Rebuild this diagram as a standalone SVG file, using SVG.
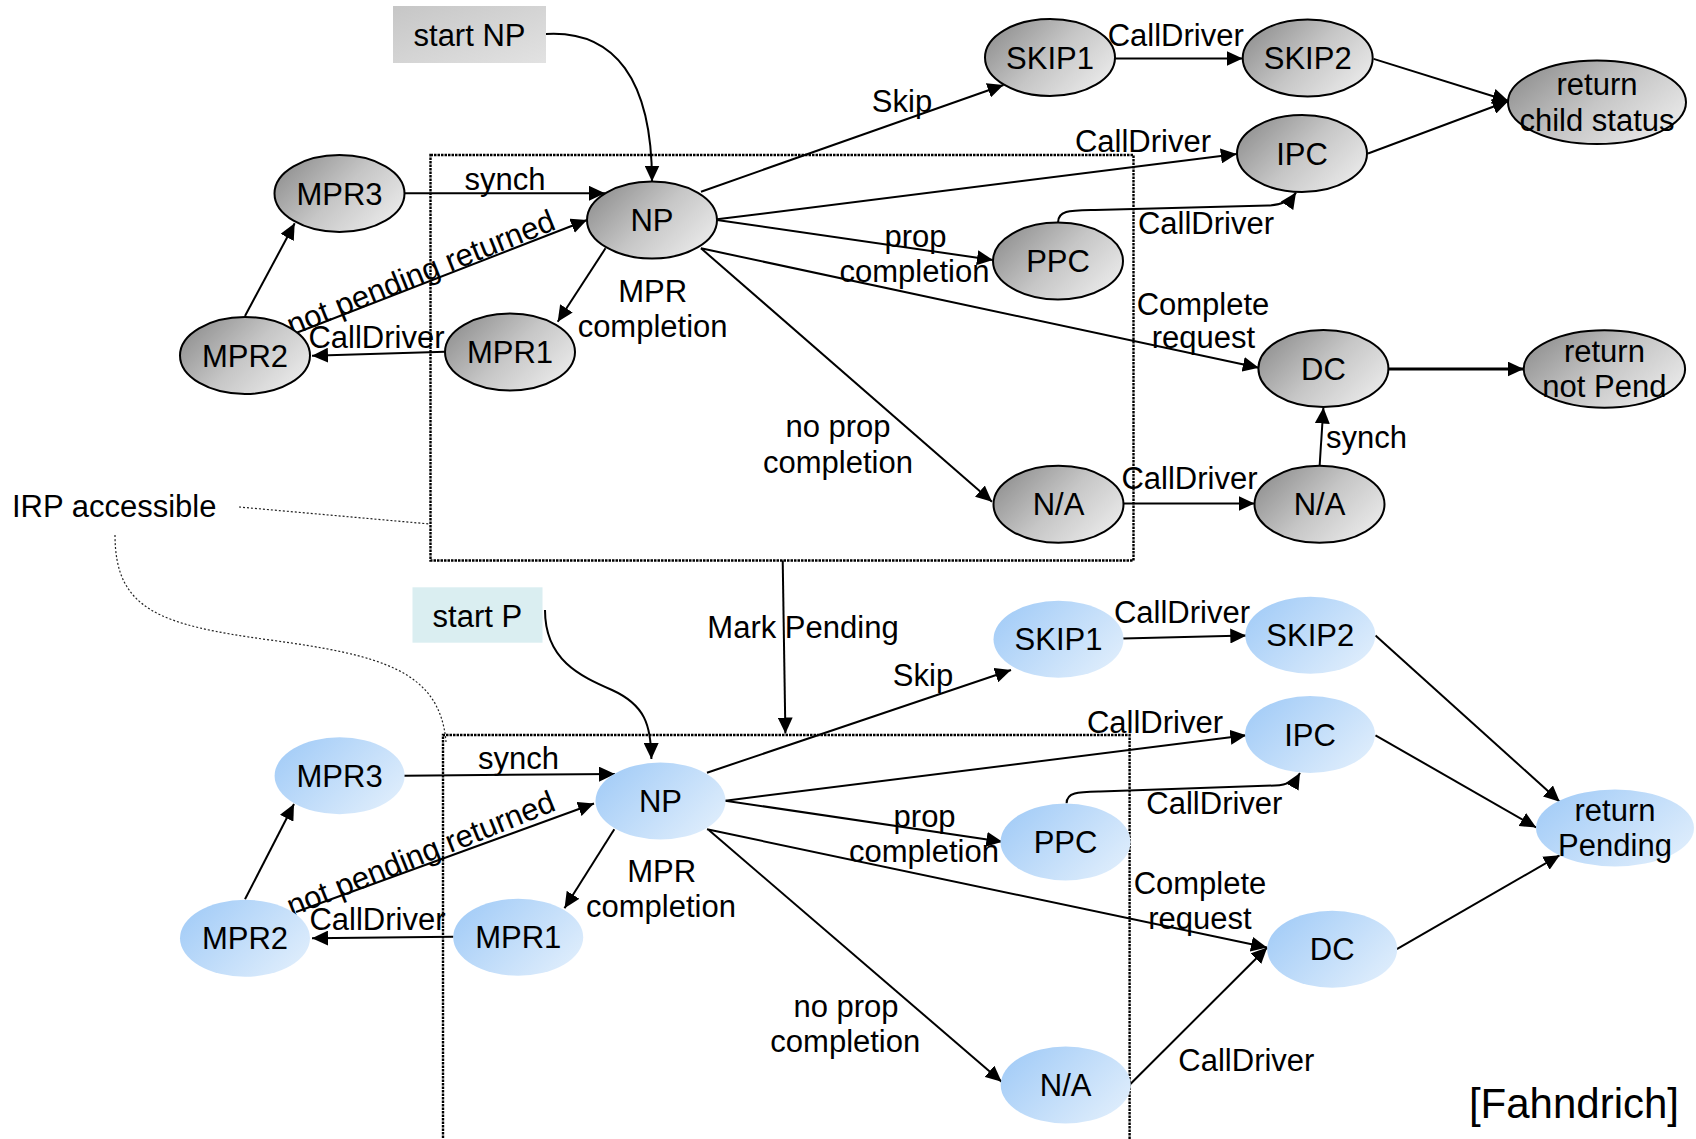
<svg xmlns="http://www.w3.org/2000/svg" width="1696" height="1139" viewBox="0 0 1696 1139">
<defs>
<linearGradient id="gray" x1="0" y1="0.2" x2="1" y2="0.8">
<stop offset="0" stop-color="#8f8f8f"/><stop offset="0.5" stop-color="#c6c6c6"/><stop offset="1" stop-color="#ececec"/>
</linearGradient>
<linearGradient id="blue" x1="0" y1="0.2" x2="1" y2="0.8">
<stop offset="0" stop-color="#a3ccf7"/><stop offset="1" stop-color="#e0eefc"/>
</linearGradient>
<linearGradient id="boxg" x1="0" y1="0" x2="1" y2="1">
<stop offset="0" stop-color="#c6c6c6"/><stop offset="1" stop-color="#e2e2e2"/>
</linearGradient>
<marker id="ah" viewBox="0 0 16 15" refX="16" refY="7.5" markerWidth="16" markerHeight="15" markerUnits="userSpaceOnUse" orient="auto">
<path d="M0,0 L16,7.5 L0,15 z" fill="#000"/>
</marker>
<style>
text{font-family:"Liberation Sans",Arial,Helvetica,sans-serif;font-size:31px;fill:#000}
.m{text-anchor:middle}
.gn{fill:url(#gray);stroke:#000;stroke-width:2}
.bn{fill:url(#blue);stroke:none}
.e{fill:none;stroke:#000;stroke-width:2;marker-end:url(#ah)}
.box{fill:none;stroke:#000;stroke-width:2.4;stroke-dasharray:2.5 1}
.thin{fill:none;stroke:#222;stroke-width:1.2;stroke-dasharray:2 2}
</style>
</defs>
<rect width="1696" height="1139" fill="#fff"/>

<g id="regions">
<rect class="box" x="430.5" y="155" width="703" height="405.5"/>
<path class="box" d="M443,1145 L443,735 L1129.6,735 L1129.6,1145"/>
<path class="thin" d="M239,507 L430,524"/>
<path class="thin" d="M115,535 C115,610 160,625 270,640 C380,655 440,670 446,742"/>
<text x="12" y="516.7">IRP accessible</text>
</g>

<g id="connectors">
<path class="e" d="M546,34 C615,30 652,80 652,181.5"/>
<path class="e" d="M404,193.3 L605,193.3"/>
<path class="e" d="M296,333 L587,220"/>
<path class="e" d="M445,351.7 L312,355.7"/>
<path class="e" d="M245,316 L294.7,223.3"/>
<path class="e" d="M605.5,248.3 L557.7,321.7"/>
<path class="e" d="M701,191.7 L1003.5,85"/>
<path class="e" d="M717,219.3 L1236.8,154"/>
<path class="e" d="M717,220 L993,260"/>
<path class="e" d="M701,248.3 L1258.8,367.7"/>
<path class="e" d="M701,248.3 L992,501.7"/>
<path class="e" d="M1058,222.5 C1058,210 1070,210.5 1095,210 L1268,205.5 C1282,205 1291,200 1296,192.6"/>
<path class="e" d="M1115,58.5 L1242.7,58.5"/>
<path class="e" d="M1373.6,58.9 L1508.5,101"/>
<path class="e" d="M1368,153.5 L1508.5,101"/>
<path class="e" style="stroke-width:3" d="M1388.4,369 L1523.7,369"/>
<path class="e" d="M1123,503.4 L1254.5,503.4"/>
<path class="e" d="M1319.6,466 L1323.4,407.5"/>
<path class="e" d="M782.7,560.5 L785.4,733.5"/>

<path class="e" d="M545,610 C545,660 580,676 612,690 C645,705 651,725 651.4,759"/>
<path class="e" d="M404,775.7 L615,774"/>
<path class="e" d="M296,912 L594,803.5"/>
<path class="e" d="M453.5,936.7 L312,938.3"/>
<path class="e" d="M245,899.3 L294,804"/>
<path class="e" d="M614.3,829.3 L564.5,908.3"/>
<path class="e" d="M707,772.7 L1011,670"/>
<path class="e" d="M725.3,800.7 L1246.3,735.3"/>
<path class="e" d="M725.3,800.7 L1002.4,841.7"/>
<path class="e" d="M707,829.3 L1267,947.5"/>
<path class="e" d="M708.8,830 L1001.6,1081.7"/>
<path class="e" d="M1066.6,803.3 C1066.6,792 1078,792 1100,791.5 L1275,785.5 C1288,785 1296,780 1300,773"/>
<path class="e" d="M1122.8,638.6 L1246.3,635.6"/>
<path class="e" d="M1375.5,635.6 L1559.8,801.7"/>
<path class="e" d="M1375.5,735.3 L1536.2,827.5"/>
<path class="e" d="M1396.4,949.3 L1559.8,855.2"/>
<path class="e" d="M1130.4,1084 L1267.2,947.5"/>
</g>

<g id="edge-labels">
<text class="m" x="505" y="190">synch</text>
<text x="292" y="336" transform="rotate(-22 292 336)">not pending returned</text>
<text class="m" x="376.5" y="348">CallDriver</text>
<text class="m" x="652.6" y="301.7">MPR</text>
<text class="m" x="652.6" y="336.7">completion</text>
<text class="m" x="902" y="111.7">Skip</text>
<text class="m" x="1143" y="151.5">CallDriver</text>
<text class="m" x="915.5" y="246.7">prop</text>
<text class="m" x="914.5" y="281.7">completion</text>
<text class="m" x="1206" y="234">CallDriver</text>
<text class="m" x="1203" y="315">Complete</text>
<text class="m" x="1203.5" y="348">request</text>
<text class="m" x="838" y="437">no prop</text>
<text class="m" x="838" y="472.5">completion</text>
<text class="m" x="1175.7" y="46">CallDriver</text>
<text class="m" x="1189.5" y="489">CallDriver</text>
<text x="1326" y="448">synch</text>
<text class="m" x="803" y="638.3">Mark Pending</text>

<text class="m" x="518.5" y="768.5">synch</text>
<text x="292" y="917" transform="rotate(-22 292 917)">not pending returned</text>
<text class="m" x="377.5" y="930">CallDriver</text>
<text class="m" x="661.7" y="881.7">MPR</text>
<text class="m" x="661" y="917.3">completion</text>
<text class="m" x="923" y="686">Skip</text>
<text class="m" x="1155" y="733">CallDriver</text>
<text class="m" x="924.6" y="826.7">prop</text>
<text class="m" x="924" y="861.7">completion</text>
<text class="m" x="1214.4" y="814">CallDriver</text>
<text class="m" x="1200" y="894">Complete</text>
<text class="m" x="1200" y="929">request</text>
<text class="m" x="846" y="1017.3">no prop</text>
<text class="m" x="845.3" y="1051.7">completion</text>
<text class="m" x="1182" y="622.7">CallDriver</text>
<text class="m" x="1246.4" y="1071">CallDriver</text>
<text x="1679" y="1117.5" style="font-size:42px;text-anchor:end">[Fahndrich]</text>
</g>

<g id="n-startNP"><rect x="393" y="6" width="153" height="57" fill="url(#boxg)"/><text class="m" x="469.5" y="45.7">start NP</text></g>
<g id="n-NP"><ellipse class="gn" cx="652" cy="220" rx="65" ry="38.5"/><text class="m" x="652" y="231">NP</text></g>
<g id="n-MPR3"><ellipse class="gn" cx="339.5" cy="193.5" rx="65" ry="38.5"/><text class="m" x="339.5" y="204.5">MPR3</text></g>
<g id="n-MPR2"><ellipse class="gn" cx="245" cy="355.5" rx="65" ry="38.5"/><text class="m" x="245" y="366.5">MPR2</text></g>
<g id="n-MPR1"><ellipse class="gn" cx="510" cy="352" rx="65" ry="38.5"/><text class="m" x="510" y="363">MPR1</text></g>
<g id="n-SKIP1"><ellipse class="gn" cx="1050" cy="57.5" rx="65" ry="38.5"/><text class="m" x="1050" y="68.5">SKIP1</text></g>
<g id="n-SKIP2"><ellipse class="gn" cx="1307.7" cy="58" rx="65" ry="38.5"/><text class="m" x="1307.7" y="69">SKIP2</text></g>
<g id="n-retChild"><ellipse class="gn" cx="1597" cy="102.3" rx="89" ry="41.7"/><text class="m" x="1597" y="95">return</text><text class="m" x="1597" y="130.7">child status</text></g>
<g id="n-IPC"><ellipse class="gn" cx="1302" cy="153.5" rx="65" ry="38.5"/><text class="m" x="1302" y="164.5">IPC</text></g>
<g id="n-PPC"><ellipse class="gn" cx="1058" cy="261" rx="65" ry="38.5"/><text class="m" x="1058" y="272">PPC</text></g>
<g id="n-DC"><ellipse class="gn" cx="1323.4" cy="368.6" rx="65" ry="38.5"/><text class="m" x="1323.4" y="379.6">DC</text></g>
<g id="n-retNotPend"><ellipse class="gn" cx="1604.4" cy="369" rx="80.7" ry="38.8"/><text class="m" x="1604.4" y="361.7">return</text><text class="m" x="1604.4" y="397">not Pend</text></g>
<g id="n-NA1"><ellipse class="gn" cx="1058.5" cy="504.3" rx="65" ry="38.5"/><text class="m" x="1058.5" y="515.3">N/A</text></g>
<g id="n-NA2"><ellipse class="gn" cx="1319.5" cy="504.3" rx="65" ry="38.5"/><text class="m" x="1319.5" y="515.3">N/A</text></g>

<g id="n-startP"><rect x="412.5" y="587.3" width="130" height="55.4" fill="#daeef1"/><text class="m" x="477.4" y="627.3">start P</text></g>
<g id="n-NP-p"><ellipse class="bn" cx="660.5" cy="801" rx="65" ry="38.5"/><text class="m" x="660.5" y="812">NP</text></g>
<g id="n-MPR3-p"><ellipse class="bn" cx="339.6" cy="775.8" rx="65" ry="38.5"/><text class="m" x="339.6" y="786.8">MPR3</text></g>
<g id="n-MPR2-p"><ellipse class="bn" cx="245" cy="938.3" rx="65" ry="38.5"/><text class="m" x="245" y="949.3">MPR2</text></g>
<g id="n-MPR1-p"><ellipse class="bn" cx="518.2" cy="937.3" rx="65" ry="38.5"/><text class="m" x="518.2" y="948.3">MPR1</text></g>
<g id="n-SKIP1-p"><ellipse class="bn" cx="1058.5" cy="639.3" rx="65" ry="38.5"/><text class="m" x="1058.5" y="650.3">SKIP1</text></g>
<g id="n-SKIP2-p"><ellipse class="bn" cx="1310.3" cy="635.3" rx="65" ry="38.5"/><text class="m" x="1310.3" y="646.3">SKIP2</text></g>
<g id="n-IPC-p"><ellipse class="bn" cx="1310" cy="734.5" rx="65" ry="38.5"/><text class="m" x="1310" y="745.5">IPC</text></g>
<g id="n-PPC-p"><ellipse class="bn" cx="1065.5" cy="842" rx="65" ry="38.5"/><text class="m" x="1065.5" y="853">PPC</text></g>
<g id="n-DC-p"><ellipse class="bn" cx="1332.2" cy="949.3" rx="65" ry="38.5"/><text class="m" x="1332.2" y="960.3">DC</text></g>
<g id="n-NA-p"><ellipse class="bn" cx="1065.7" cy="1085" rx="65" ry="38.5"/><text class="m" x="1065.7" y="1096">N/A</text></g>
<g id="n-retPending"><ellipse class="bn" cx="1615" cy="828" rx="79" ry="38.5"/><text class="m" x="1615" y="820.7">return</text><text class="m" x="1615" y="856.4">Pending</text></g>
</svg>
